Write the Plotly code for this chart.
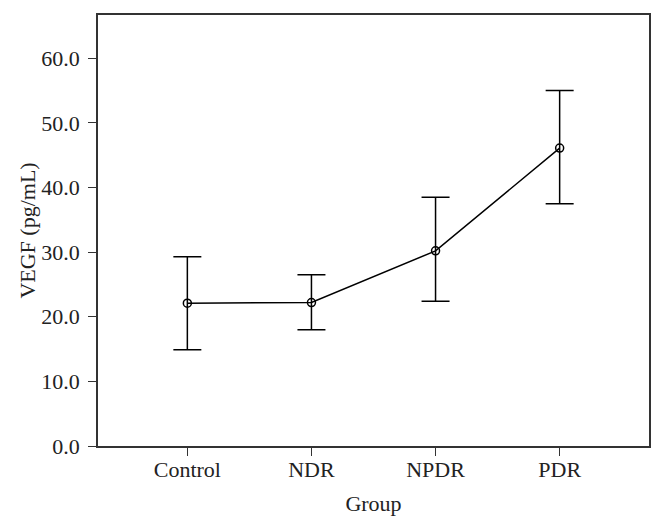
import plotly.graph_objects as go

groups = ["Control", "NDR", "NPDR", "PDR"]
means = [22.1, 22.2, 30.2, 46.1]
upper = [29.3, 26.5, 38.5, 55.0]
lower = [14.9, 18.0, 22.4, 37.5]

xs = list(range(len(groups)))
err_plus = [u - m for u, m in zip(upper, means)]
err_minus = [m - l for m, l in zip(means, lower)]

fig = go.Figure()
fig.add_trace(go.Scatter(
    x=xs, y=means, mode="lines+markers",
    line=dict(color="black", width=1.5),
    marker=dict(symbol="circle-open", size=8, color="black", line=dict(width=1.5)),
    error_y=dict(type="data", array=err_plus, arrayminus=err_minus,
                 symmetric=False, color="black", thickness=1.5, width=14),
    showlegend=False,
))

font = "Liberation Serif, DejaVu Serif, serif"
fs = 22
# page body has a default 8px margin, so the figure is sized to fit the window
fig.update_layout(
    width=656, height=521,
    margin=dict(l=90, r=15, t=5, b=83),
    plot_bgcolor="white", paper_bgcolor="white",
    font=dict(family=font, size=fs, color="#222"),
)
fig.update_xaxes(
    range=[-0.72, 3.72], tickvals=xs, ticktext=groups,
    tickfont=dict(family=font, size=fs, color="#222"),
    ticklabelstandoff=-5,
    showline=True, linecolor="#333", linewidth=1.5, mirror=True,
    ticks="outside", ticklen=8, tickcolor="#333", showgrid=False, zeroline=False,
    title=dict(text="Group", standoff=14, font=dict(family=font, size=fs, color="#222")),
)
fig.update_yaxes(
    range=[0, 66.7], tickvals=[0, 10, 20, 30, 40, 50, 60], tickformat=".1f",
    tickfont=dict(family=font, size=fs, color="#222"),
    ticklabelstandoff=4,
    showline=True, linecolor="#333", linewidth=1.5, mirror=True,
    ticks="outside", ticklen=8, tickcolor="#333", showgrid=False, zeroline=False,
    title=dict(text="VEGF (pg/mL)", standoff=0, font=dict(family=font, size=fs, color="#222")),
)
fig.write_html("out.html")
